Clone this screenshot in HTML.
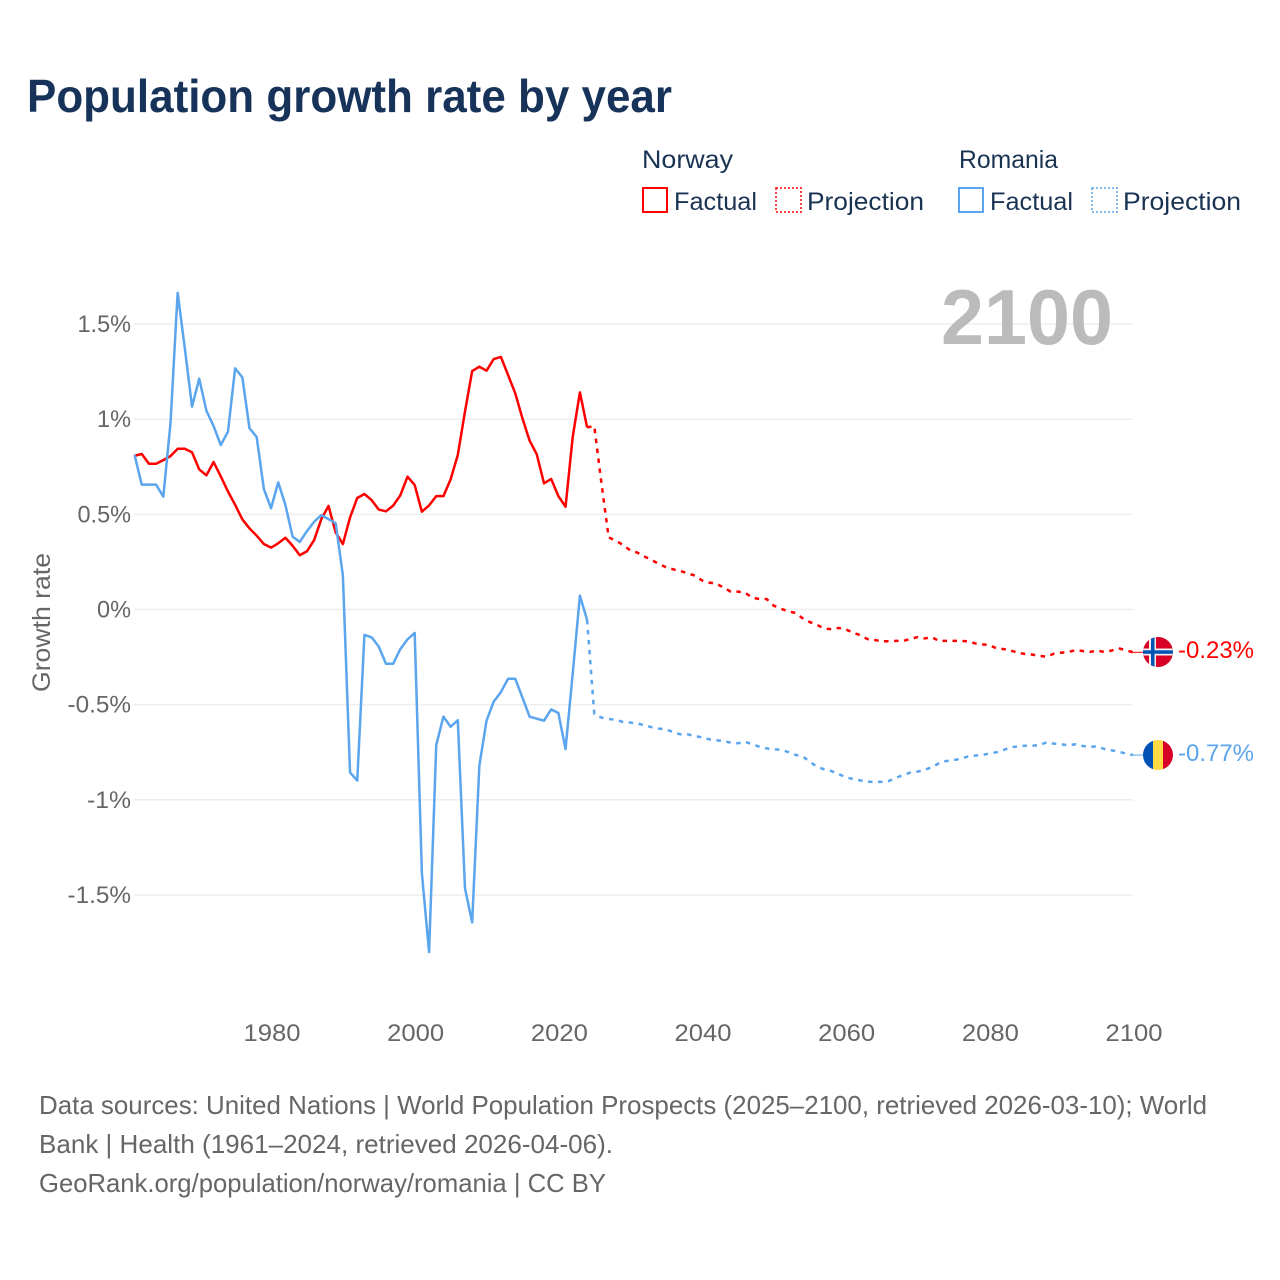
<!DOCTYPE html>
<html lang="en">
<head>
<meta charset="utf-8">
<title>Population growth rate by year</title>
<style>
html,body{margin:0;padding:0;background:#fff;width:1280px;height:1280px;overflow:hidden}
svg{display:block}
text{font-family:"Liberation Sans",sans-serif}
.leg{font-size:25px;fill:#1a3353}
.foot{font-size:26px;fill:#666}
.tick{font-size:24px;fill:#666}
</style>
</head>
<body>
<svg id="chart" xmlns="http://www.w3.org/2000/svg" width="1280" height="1280" viewBox="0 0 1280 1280">
  <rect x="0" y="0" width="1280" height="1280" fill="#fff"/>
  <text x="27" y="112" font-size="46" font-weight="700" fill="#17335a" textLength="645" lengthAdjust="spacingAndGlyphs">Population growth rate by year</text>

  <g>
    <text class="leg" x="642" y="168" textLength="91" lengthAdjust="spacingAndGlyphs">Norway</text>
    <rect x="643" y="188" width="24" height="24" fill="none" stroke="#ff0000" stroke-width="2"/>
    <text class="leg" x="674" y="210" textLength="83" lengthAdjust="spacingAndGlyphs">Factual</text>
    <rect x="776" y="188" width="25" height="24" fill="none" stroke="#ff0000" stroke-width="1.5" stroke-dasharray="2 2"/>
    <text class="leg" x="807" y="210" textLength="117" lengthAdjust="spacingAndGlyphs">Projection</text>
    <text class="leg" x="959" y="168" textLength="99" lengthAdjust="spacingAndGlyphs">Romania</text>
    <rect x="959" y="188" width="24" height="24" fill="none" stroke="#5aa5ee" stroke-width="2"/>
    <text class="leg" x="990" y="210" textLength="83" lengthAdjust="spacingAndGlyphs">Factual</text>
    <rect x="1092" y="188" width="25" height="24" fill="none" stroke="#5aa5ee" stroke-width="1.5" stroke-dasharray="2 2"/>
    <text class="leg" x="1123" y="210" textLength="118" lengthAdjust="spacingAndGlyphs">Projection</text>
  </g>

  <g id="grid"></g>
  <g id="yticks"></g>
  <g id="xticks"></g>

  <text transform="translate(50,692) rotate(-90)" font-size="25" fill="#666" textLength="139" lengthAdjust="spacingAndGlyphs">Growth rate</text>
  <text x="1113" y="344" font-size="78" font-weight="700" fill="#bbbbbb" text-anchor="end" textLength="172" lengthAdjust="spacingAndGlyphs">2100</text>

  <g id="series"></g>

  <clipPath id="flag-no"><circle id="clip-no" cx="1158" cy="652" r="15"/></clipPath>
  <clipPath id="flag-ro"><circle id="clip-ro" cx="1158" cy="755" r="15"/></clipPath>
  <g id="no-flag" clip-path="url(#flag-no)">
    <rect x="1143" y="637" width="30" height="30" fill="#d80027"/>
    <rect x="1149" y="637" width="7" height="30" fill="#f0f0f0"/>
    <rect x="1143" y="648.5" width="30" height="7" fill="#f0f0f0"/>
    <rect x="1151" y="637" width="3.5" height="30" fill="#0052b4"/>
    <rect x="1143" y="650.3" width="30" height="3.5" fill="#0052b4"/>
  </g>
  <g id="ro-flag" clip-path="url(#flag-ro)">
    <rect x="1143" y="740" width="10" height="30" fill="#0052b4"/>
    <rect x="1153" y="740" width="10" height="30" fill="#ffda44"/>
    <rect x="1163" y="740" width="10" height="30" fill="#d80027"/>
  </g>
  <text id="end-no" x="1178" y="658" font-size="24" fill="#ff0000" textLength="76" lengthAdjust="spacingAndGlyphs"></text>
  <text id="end-ro" x="1178" y="761" font-size="24" fill="#5aa5ee" textLength="76" lengthAdjust="spacingAndGlyphs"></text>

  <g>
    <text class="foot" x="39" y="1114" textLength="1168" lengthAdjust="spacingAndGlyphs">Data sources: United Nations | World Population Prospects (2025–2100, retrieved 2026-03-10); World</text>
    <text class="foot" x="39" y="1153" textLength="574" lengthAdjust="spacingAndGlyphs">Bank | Health (1961–2024, retrieved 2026-04-06).</text>
    <text class="foot" x="39" y="1192" textLength="567" lengthAdjust="spacingAndGlyphs">GeoRank.org/population/norway/romania | CC BY</text>
  </g>
</svg>
<script>
const factualStartYear = 1961;
const projectionStartYear = 2025;
const yTickValues = [1.5, 1, 0.5, 0, -0.5, -1, -1.5];
const yTickLabels = ["1.5%", "1%", "0.5%", "0%", "-0.5%", "-1%", "-1.5%"];
const xTickYears = [1980, 2000, 2020, 2040, 2060, 2080, 2100];
const endLabels = ["-0.23%", "-0.77%"];

const norwayFactual = [
  .808,.817,.766,.766,.785,.806,.845,.845,.826,.736,
  .705,.775,.70,.62,.55,.474,.426,.388,.344,.325,
  .348,.377,.335,.285,.306,.365,.475,.544,.405,.344,
  .484,.586,.607,.575,.525,.516,.546,.60,.698,.654,
  .514,.547,.596,.596,.684,.812,1.04,1.253,1.276,1.255,
  1.316,1.327,1.232,1.136,1.004,.887,.815,.663,.686,.596,
  .54,.908,1.141,.957
];
const norwayProjection = [
  .964,.663,.379,.362,.339,.311,.299,.278,.26,.239,
  .222,.211,.202,.19,.178,.153,.141,.136,.115,.094,
  .094,.088,.062,.055,.055,.02,.004,-.01,-.018,-.046,
  -.066,-.081,-.099,-.104,-.097,-.104,-.122,-.134,-.155,-.16,
  -.167,-.167,-.165,-.165,-.155,-.145,-.152,-.146,-.165,-.165,
  -.165,-.165,-.167,-.178,-.183,-.187,-.204,-.208,-.216,-.227,
  -.234,-.237,-.244,-.248,-.232,-.227,-.223,-.214,-.218,-.223,
  -.216,-.223,-.216,-.204,-.214,-.225
];
const romaniaFactual = [
  .812,.656,.656,.656,.593,.978,1.664,1.372,1.066,1.213,
  1.045,.964,.864,.934,1.267,1.22,.953,.906,.633,.532,
  .668,.549,.383,.355,.412,.461,.496,.475,.453,.18,
  -.856,-.899,-.134,-.146,-.195,-.285,-.285,-.208,-.157,-.123,
  -1.386,-1.80,-.712,-.563,-.616,-.582,-1.465,-1.644,-.82,-.584,
  -.484,-.434,-.364,-.364,-.463,-.563,-.574,-.584,-.525,-.544,
  -.733,-.336,.073,-.055
];
const romaniaProjection = [
  -.549,-.568,-.575,-.58,-.591,-.594,-.6,-.607,-.619,-.626,
  -.63,-.645,-.656,-.656,-.665,-.672,-.682,-.687,-.691,-.7,
  -.703,-.695,-.708,-.721,-.73,-.735,-.737,-.749,-.764,-.771,
  -.8,-.826,-.84,-.849,-.864,-.882,-.89,-.898,-.905,-.906,
  -.906,-.901,-.884,-.87,-.857,-.852,-.842,-.829,-.808,-.796,
  -.792,-.784,-.773,-.768,-.764,-.757,-.75,-.738,-.724,-.719,
  -.716,-.716,-.712,-.698,-.705,-.708,-.714,-.708,-.717,-.722,
  -.719,-.733,-.74,-.747,-.757,-.765
];

const NS = "http://www.w3.org/2000/svg";
const RED = "#ff0000";
const BLUE = "#5aa5ee";
const xScale = year => 1134 + (year - 2100) * 7.183;
const lineX = year => xScale(year) - 1;
const yScale = value => 609.5 - value * 190.3;

function labelWidth(label) {
  let width = 0;
  for (const ch of label) {
    if (ch === "-") width += 10;
    else if (ch === ".") width += 5.5;
    else if (ch === "%") width += 20;
    else width += 14;
  }
  return width;
}

function makeLine(points, color, dash, width) {
  const line = document.createElementNS(NS, "polyline");
  line.setAttribute("points", points.map(p => lineX(p[0]).toFixed(2) + "," + yScale(p[1]).toFixed(2)).join(" "));
  line.setAttribute("fill", "none");
  line.setAttribute("stroke", color);
  line.setAttribute("stroke-width", width);
  line.setAttribute("stroke-linejoin", "round");
  if (dash) line.setAttribute("stroke-dasharray", dash);
  return line;
}

const gridGroup = document.getElementById("grid");
const yTickGroup = document.getElementById("yticks");
yTickValues.forEach((value, i) => {
  const rule = document.createElementNS(NS, "line");
  
  
  rule.setAttribute("x1", 134);
  rule.setAttribute("x2", 1133);
  rule.setAttribute("y1", yScale(value));
  rule.setAttribute("y2", yScale(value));
  rule.setAttribute("stroke", "#eeeeee");
  rule.setAttribute("stroke-width", 1.5);
  gridGroup.appendChild(rule);

  const label = document.createElementNS(NS, "text");
  
  
  label.setAttribute("class", "tick");
  label.setAttribute("x", 131);
  label.setAttribute("y", yScale(value) + 8);
  label.setAttribute("text-anchor", "end");
  label.setAttribute("textLength", labelWidth(yTickLabels[i]));
  label.setAttribute("lengthAdjust", "spacingAndGlyphs");
  label.textContent = yTickLabels[i];
  yTickGroup.appendChild(label);
});

const xTickGroup = document.getElementById("xticks");
xTickYears.forEach(year => {
  const label = document.createElementNS(NS, "text");
  
  
  label.setAttribute("class", "tick");
  label.setAttribute("x", xScale(year));
  label.setAttribute("y", 1041);
  label.setAttribute("text-anchor", "middle");
  label.setAttribute("textLength", 57);
  label.setAttribute("lengthAdjust", "spacingAndGlyphs");
  label.textContent = String(year);
  xTickGroup.appendChild(label);
});

function factualPoints(values) {
  return values.map((v, i) => [factualStartYear + i, v]);
}
function projectionPoints(factual, values) {
  const last = [factualStartYear + factual.length - 1, factual[factual.length - 1]];
  return [last].concat(values.map((v, i) => [projectionStartYear + i, v]));
}

const seriesGroup = document.getElementById("series");

const norwayFactualLine = makeLine(factualPoints(norwayFactual), RED, null, 2.5);


seriesGroup.appendChild(norwayFactualLine);

const norwayProjectionLine = makeLine(projectionPoints(norwayFactual, norwayProjection), RED, "4.5 5.5", 2.5);


seriesGroup.appendChild(norwayProjectionLine);

const romaniaFactualLine = makeLine(factualPoints(romaniaFactual), BLUE, null, 2.5);


seriesGroup.appendChild(romaniaFactualLine);

const romaniaProjectionLine = makeLine(projectionPoints(romaniaFactual, romaniaProjection), BLUE, "4.5 5.5", 2.5);


seriesGroup.appendChild(romaniaProjectionLine);

const lastNorway = norwayProjection[norwayProjection.length - 1];
const lastRomania = romaniaProjection[romaniaProjection.length - 1];

const norwayLeader = makeLine([[2100, lastNorway], [2101.5, lastNorway]], RED, null, 1);


seriesGroup.appendChild(norwayLeader);

const romaniaLeader = makeLine([[2100, lastRomania], [2101.5, lastRomania]], BLUE, null, 1);


seriesGroup.appendChild(romaniaLeader);

document.getElementById("end-no").textContent = endLabels[0];
document.getElementById("end-ro").textContent = endLabels[1];
</script>
</body>
</html>
